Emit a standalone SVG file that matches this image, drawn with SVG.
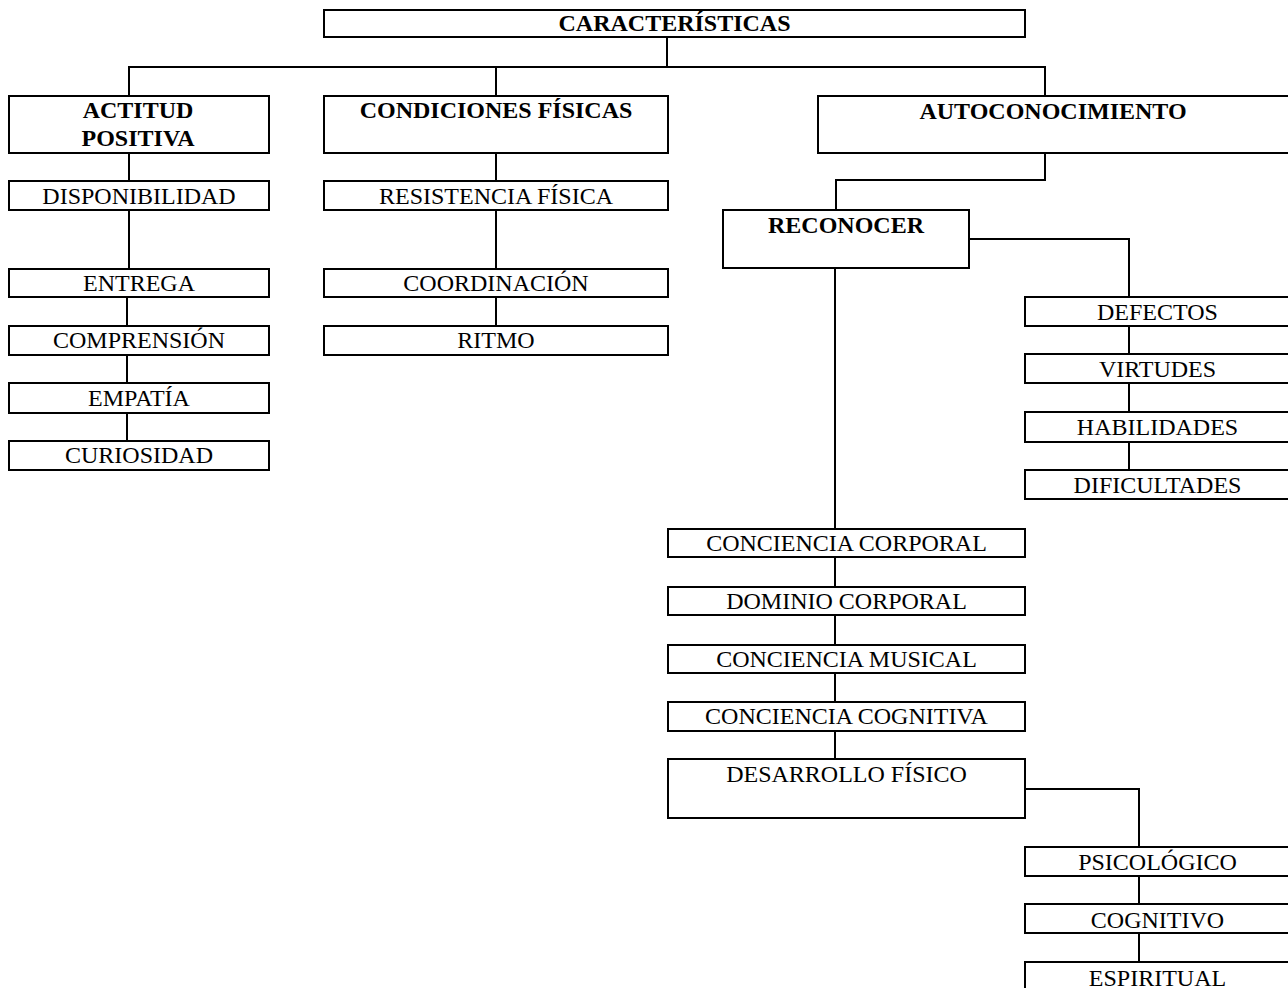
<svg xmlns="http://www.w3.org/2000/svg" width="1288" height="988" viewBox="0 0 1288 988">
<style>
  .box { fill: #ffffff; stroke: #000000; stroke-width: 2; }
  .lbl { font-family: "Liberation Serif", "Times New Roman", serif; font-size: 24px; fill: #000000; text-anchor: middle; }
  .b { font-weight: bold; }
  .conn { fill: none; stroke: #000000; stroke-width: 2; }
</style>
<rect x="0" y="0" width="1288" height="988" fill="#ffffff"/>
<g id="connectors" class="conn">
  <path d="M667,37 V67"/>
  <path d="M129,96 V67 H1045 V96"/>
  <path d="M496,67 V96"/>
  <path d="M129,153 V181"/>
  <path d="M129,210 V269"/>
  <path d="M127,297 V326"/>
  <path d="M127,355 V383"/>
  <path d="M127,413 V441"/>
  <path d="M496,153 V181"/>
  <path d="M496,210 V269"/>
  <path d="M496,297 V326"/>
  <path d="M1045,153 V180 H836 V210"/>
  <path d="M969,239 H1129 V297"/>
  <path d="M1129,326 V354"/>
  <path d="M1129,383 V412"/>
  <path d="M1129,442 V470"/>
  <path d="M835,268 V529"/>
  <path d="M835,557 V587"/>
  <path d="M835,615 V645"/>
  <path d="M835,673 V702"/>
  <path d="M835,731 V759"/>
  <path d="M1025,789 H1139 V847"/>
  <path d="M1139,876 V904"/>
  <path d="M1139,933 V962"/>
</g>
<g id="caracteristicas"><rect class="box" x="324" y="10" width="701" height="27"/><text class="lbl b" x="674.5" y="31">CARACTERÍSTICAS</text></g>
<g id="actitud"><rect class="box" x="9" y="96" width="260" height="57"/><text class="lbl b" x="138" y="118">ACTITUD</text><text class="lbl b" x="138" y="145.5">POSITIVA</text></g>
<g id="condiciones"><rect class="box" x="324" y="96" width="344" height="57"/><text class="lbl b" x="496" y="118">CONDICIONES FÍSICAS</text></g>
<g id="autoconocimiento"><rect class="box" x="818" y="96" width="472" height="57"/><text class="lbl b" x="1053" y="119">AUTOCONOCIMIENTO</text></g>
<g id="disponibilidad"><rect class="box" x="9" y="181" width="260" height="29"/><text class="lbl" x="139" y="204">DISPONIBILIDAD</text></g>
<g id="resistencia"><rect class="box" x="324" y="181" width="344" height="29"/><text class="lbl" x="496" y="204">RESISTENCIA FÍSICA</text></g>
<g id="reconocer"><rect class="box" x="723" y="210" width="246" height="58"/><text class="lbl b" x="846" y="233">RECONOCER</text></g>
<g id="entrega"><rect class="box" x="9" y="269" width="260" height="28"/><text class="lbl" x="139" y="291">ENTREGA</text></g>
<g id="coordinacion"><rect class="box" x="324" y="269" width="344" height="28"/><text class="lbl" x="496" y="291">COORDINACIÓN</text></g>
<g id="comprension"><rect class="box" x="9" y="326" width="260" height="29"/><text class="lbl" x="139" y="348">COMPRENSIÓN</text></g>
<g id="ritmo"><rect class="box" x="324" y="326" width="344" height="29"/><text class="lbl" x="496" y="348">RITMO</text></g>
<g id="empatia"><rect class="box" x="9" y="383" width="260" height="30"/><text class="lbl" x="139" y="406">EMPATÍA</text></g>
<g id="curiosidad"><rect class="box" x="9" y="441" width="260" height="29"/><text class="lbl" x="139" y="463">CURIOSIDAD</text></g>
<g id="defectos"><rect class="box" x="1025" y="297" width="265" height="29"/><text class="lbl" x="1157.5" y="319.5">DEFECTOS</text></g>
<g id="virtudes"><rect class="box" x="1025" y="354" width="265" height="29"/><text class="lbl" x="1157.5" y="377">VIRTUDES</text></g>
<g id="habilidades"><rect class="box" x="1025" y="412" width="265" height="30"/><text class="lbl" x="1157.5" y="435">HABILIDADES</text></g>
<g id="dificultades"><rect class="box" x="1025" y="470" width="265" height="29"/><text class="lbl" x="1157.5" y="492.5">DIFICULTADES</text></g>
<g id="conciencia-corporal"><rect class="box" x="668" y="529" width="357" height="28"/><text class="lbl" x="846.5" y="551">CONCIENCIA CORPORAL</text></g>
<g id="dominio-corporal"><rect class="box" x="668" y="587" width="357" height="28"/><text class="lbl" x="846.5" y="609">DOMINIO CORPORAL</text></g>
<g id="conciencia-musical"><rect class="box" x="668" y="645" width="357" height="28"/><text class="lbl" x="846.5" y="667">CONCIENCIA MUSICAL</text></g>
<g id="conciencia-cognitiva"><rect class="box" x="668" y="702" width="357" height="29"/><text class="lbl" x="846.5" y="724">CONCIENCIA COGNITIVA</text></g>
<g id="desarrollo-fisico"><rect class="box" x="668" y="759" width="357" height="59"/><text class="lbl" x="846.5" y="782">DESARROLLO FÍSICO</text></g>
<g id="psicologico"><rect class="box" x="1025" y="847" width="265" height="29"/><text class="lbl" x="1157.5" y="870">PSICOLÓGICO</text></g>
<g id="cognitivo"><rect class="box" x="1025" y="904" width="265" height="29"/><text class="lbl" x="1157.5" y="928">COGNITIVO</text></g>
<g id="espiritual"><rect class="box" x="1025" y="962" width="265" height="40"/><text class="lbl" x="1157.5" y="986">ESPIRITUAL</text></g>
</svg>
